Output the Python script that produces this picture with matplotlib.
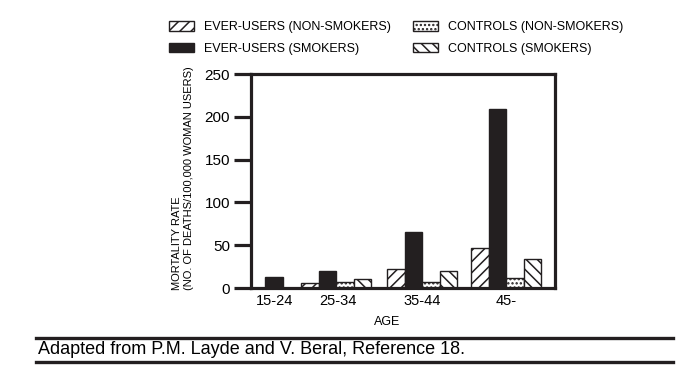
import matplotlib
matplotlib.use('Agg')
import matplotlib.pyplot as plt
from matplotlib.patches import Patch
from matplotlib.lines import Line2D

# %% data
ages = ['15-24', '25-34', '35-44', '45-']
everNonSmokers = [0, 6, 22, 47]
everSmokers = [13, 20, 65, 209]
ctrlNonSmokers = [0, 7, 7, 12]
ctrlSmokers = [0, 10, 20, 34]
seriesNames = ['EVER-USERS (NON-SMOKERS)', 'EVER-USERS (SMOKERS)',
               'CONTROLS (NON-SMOKERS)', 'CONTROLS (SMOKERS)']

# %% layout (x in pixel-ish units from the left spine)
groupStart = [-3.5, 50, 136, 220]
tickPos = [24, 86.5, 171, 255]
barW = 17.5
dark = '#231f20'
styles = [
  dict(facecolor='white', hatch='///'),
  dict(facecolor=dark, hatch=None),
  dict(facecolor='white', hatch='....'),
  dict(facecolor='white', hatch='\\\\\\'),
]

plt.rcParams['font.family'] = ['Liberation Sans', 'DejaVu Sans']
plt.rcParams['hatch.linewidth'] = 1.1
plt.rcParams['hatch.color'] = dark

fig = plt.figure(figsize=(6.98, 3.68), dpi=100)
ax = fig.add_axes([251/698, 1 - 288/368, (555 - 251)/698, (288 - 74)/368])

allSeries = [everNonSmokers, everSmokers, ctrlNonSmokers, ctrlSmokers]
for i, (vals, st) in enumerate(zip(allSeries, styles)):
  xs = [g + i * barW for g in groupStart]
  ax.bar(xs, vals, width=barW, align='edge', edgecolor=dark, linewidth=1.0, **st)

ax.set_xlim(0, 304)
ax.set_ylim(0, 250)
ax.set_yticks([0, 50, 100, 150, 200, 250])
ax.set_xticks(tickPos)
ax.set_xticklabels(ages)
for s in ax.spines.values():
  s.set_linewidth(2.3)
  s.set_color(dark)
ax.tick_params(axis='y', length=12, width=2.3, color=dark, labelsize=11, pad=3)
ax.tick_params(axis='x', length=0, labelsize=10.5, pad=4)

fig.text(387/698, 1 - 322/368, 'AGE', ha='center', va='center', fontsize=9)
fig.text(183/698, 1 - 290/368, 'MORTALITY RATE\n(NO. OF DEATHS/100,000 WOMAN USERS)',
         rotation=90, ha='center', va='bottom', multialignment='left', fontsize=8,
         linespacing=1.15)

handles = [Patch(edgecolor=dark, linewidth=1.0, **st) for st in styles]
fig.legend(handles, seriesNames, ncol=2, loc='upper left',
           bbox_to_anchor=(169/698, 1 - 21/368), frameon=False, fontsize=9,
           handlelength=2.0, handleheight=0.8, handletextpad=0.8,
           columnspacing=1.8, labelspacing=0.75, borderpad=0, borderaxespad=0)

# footer
for yy in [338, 362]:
  fig.add_artist(Line2D([36/698, 673/698], [1 - yy/368] * 2, transform=fig.transFigure,
                        color=dark, linewidth=2.4))
fig.text(38/698, 1 - 350/368, 'Adapted from P.M. Layde and V. Beral, Reference 18.',
         ha='left', va='center', fontsize=13)

plt.savefig('out.png', dpi=100)
